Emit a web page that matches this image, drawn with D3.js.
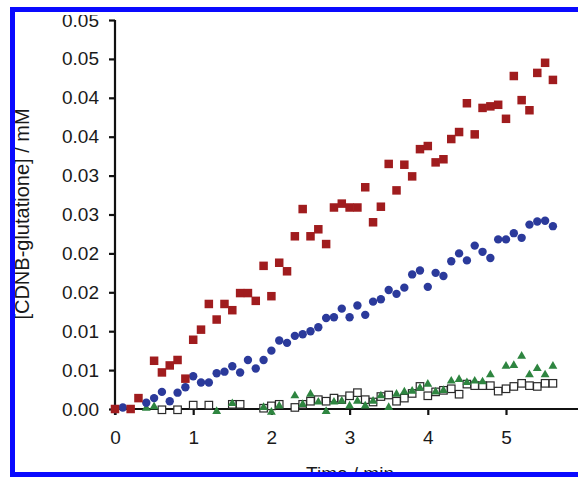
<!DOCTYPE html>
<html>
<head>
<meta charset="utf-8">
<script src="https://cdn.jsdelivr.net/npm/d3@7"></script>
<style>
  html, body { margin: 0; padding: 0; background: #fff; }
  svg { display: block; }
  text { font-family: "Liberation Sans", Arial, sans-serif; fill: #1a1a1a; }
</style>
</head>
<body>
<svg id="chart" width="578" height="479"></svg>
<script>
// ---- data (time in min, concentration in mM) ----
const redT = [0.0,0.2,0.3,0.5,0.6,0.7,0.8,0.9,1.0,1.1,1.2,1.3,1.4,1.5,1.6,1.7,1.8,1.9,2.0,2.1,2.2,2.3,2.4,2.5,2.6,2.7,2.8,2.9,3.0,3.1,3.2,3.3,3.4,3.5,3.6,3.7,3.8,3.9,4.0,4.1,4.2,4.3,4.4,4.5,4.6,4.7,4.8,4.9,5.0,5.1,5.2,5.3,5.4,5.5,5.6];
const redY = [0,0,0.0014,0.0062,0.0047,0.0056,0.0063,0.0039,0.0089,0.0102,0.0135,0.0115,0.0135,0.0127,0.0149,0.0149,0.0139,0.0184,0.0145,0.0188,0.0177,0.0222,0.0257,0.0222,0.0231,0.0212,0.0259,0.0264,0.0259,0.0259,0.0285,0.0240,0.0260,0.0315,0.0281,0.0314,0.0299,0.0334,0.0338,0.0317,0.0321,0.0347,0.0356,0.0393,0.0353,0.0387,0.0389,0.0391,0.0373,0.0428,0.0397,0.0384,0.0432,0.0445,0.0423];

const blueT = [0.0,0.1,0.4,0.5,0.6,0.7,0.8,0.9,1.0,1.1,1.2,1.3,1.4,1.5,1.6,1.7,1.8,1.9,2.0,2.1,2.2,2.3,2.4,2.5,2.6,2.7,2.8,2.9,3.0,3.1,3.2,3.3,3.4,3.5,3.6,3.7,3.8,3.9,4.0,4.1,4.2,4.3,4.4,4.5,4.6,4.7,4.8,4.9,5.0,5.1,5.2,5.3,5.4,5.5,5.6];
const blueY = [0,0.0002,0.0008,0.0014,0.0022,0.0010,0.0021,0.0028,0.0042,0.0034,0.0034,0.0046,0.0048,0.0055,0.0047,0.0063,0.0052,0.0063,0.0075,0.0088,0.0085,0.0094,0.0096,0.0100,0.0105,0.0117,0.0118,0.0129,0.0118,0.0133,0.0121,0.0138,0.0141,0.0153,0.0148,0.0156,0.0173,0.0178,0.0157,0.0175,0.0171,0.0190,0.0200,0.0191,0.0210,0.0202,0.0194,0.0218,0.0218,0.0226,0.0220,0.0237,0.0241,0.0242,0.0235];

const openT = [0.6,0.8,1.0,1.2,1.5,1.6,1.9,2.0,2.1,2.3,2.4,2.5,2.6,2.7,2.8,2.9,3.0,3.1,3.2,3.3,3.4,3.5,3.6,3.7,3.8,3.9,4.0,4.1,4.2,4.3,4.4,4.5,4.6,4.7,4.8,4.9,5.0,5.1,5.2,5.3,5.4,5.5,5.6];
const openY = [-0.0001,-0.0001,0.0005,0.0005,0.0006,0.0006,0.0001,0.0004,0.0006,0.0002,0.0006,0.0010,0.0012,0.0010,0.0014,0.0012,0.0017,0.0021,0.0012,0.0009,0.0016,0.0018,0.0010,0.0014,0.0020,0.0029,0.0017,0.0022,0.0024,0.0026,0.0019,0.0032,0.0030,0.0030,0.0030,0.0023,0.0026,0.0029,0.0033,0.0030,0.0029,0.0033,0.0033];

const greenT = [0.4,0.5,1.3,1.5,1.9,2.0,2.1,2.3,2.4,2.5,2.6,2.7,2.8,2.9,3.0,3.1,3.2,3.3,3.4,3.5,3.6,3.7,3.8,3.9,4.0,4.1,4.2,4.3,4.4,4.5,4.6,4.7,4.8,5.0,5.1,5.2,5.3,5.4,5.5,5.6];
const greenY = [0.0001,0.0003,-0.0003,0.0007,0.0002,-0.0004,0.0004,0.0017,0.0006,0.0019,0.0009,-0.0003,0.0009,0.0010,0.0004,0.0010,0.0004,0.0010,0.0017,0.0002,0.0019,0.0022,0.0023,0.0027,0.0032,0.0022,0.0024,0.0036,0.0038,0.0034,0.0036,0.0035,0.0044,0.0055,0.0056,0.0068,0.0044,0.0052,0.0044,0.0055];

const xTicks = [0,1,2,3,4,5,6];
const yTicks = [0,0.005,0.01,0.015,0.02,0.025,0.03,0.035,0.04,0.045,0.05];
const yTickLabels = ["0.00","0.01","0.01","0.02","0.02","0.03","0.03","0.04","0.04","0.05","0.05"];
const xTitle = "Time / min";
const yTitle = "[CDNB-glutatione] / mM";

// ---- drawing ----
const svg = d3.select("#chart");
const x = d3.scaleLinear().domain([0, 6]).range([115, 584.2]);
const y = d3.scaleLinear().domain([0, 0.05]).range([409, 20]);

svg.append("defs").append("clipPath").attr("id", "clip")
  .append("rect").attr("x", 12).attr("y", 15).attr("width", 570).attr("height", 458);

const g = svg.append("g").attr("clip-path", "url(#clip)");

// axes
const xAxis = g.append("g").attr("transform", `translate(0,${y(0)})`)
  .call(d3.axisBottom(x).tickValues(xTicks).tickFormat(d3.format("d")).tickSize(6).tickPadding(16));
const yAxis = g.append("g").attr("transform", `translate(${x(0)},0)`)
  .call(d3.axisLeft(y).tickValues(yTicks).tickFormat((d, i) => yTickLabels[i]).tickSize(6).tickPadding(10));

[xAxis, yAxis].forEach(a => {
  a.select(".domain").attr("stroke", "#111").attr("stroke-width", 2.2);
  a.selectAll(".tick line").attr("stroke", "#111").attr("stroke-width", 2.2);
  a.selectAll(".tick text").attr("font-size", 19).attr("fill", "#1a1a1a")
    .style("font-family", '"Liberation Sans", Arial, sans-serif');
});
xAxis.select(".domain").attr("d", `M${x(0) - 3},0H${x(6) + 10}`);
yAxis.select(".domain").attr("d", `M0,${y(0) + 6}V${y(0.05)}`);
xAxis.selectAll(".tick text").attr("dy", "0.71em");

// open squares
const os = 7.5;
g.append("g").selectAll("rect").data(openT).join("rect")
  .attr("x", (d) => x(d) - os / 2)
  .attr("y", (d, i) => y(openY[i]) - os / 2)
  .attr("width", os).attr("height", os)
  .attr("fill", "#fff").attr("stroke", "#2a2a2a").attr("stroke-width", 1.2);

// green triangles
g.append("g").selectAll("path").data(greenT).join("path")
  .attr("transform", (d, i) => `translate(${x(d)},${y(greenY[i])})`)
  .attr("d", d3.symbol(d3.symbolTriangle, 34))
  .attr("fill", "#2e8540");

// blue circles
g.append("g").selectAll("circle").data(blueT).join("circle")
  .attr("cx", (d) => x(d))
  .attr("cy", (d, i) => y(blueY[i]))
  .attr("r", 4.2)
  .attr("fill", "#2b3a9b");

// red squares
const rs = 8.5;
g.append("g").selectAll("rect").data(redT).join("rect")
  .attr("x", (d) => x(d) - rs / 2)
  .attr("y", (d, i) => y(redY[i]) - rs / 2)
  .attr("width", rs).attr("height", rs)
  .attr("fill", "#a01c1e");

// axis titles
g.append("text").attr("x", 350).attr("y", 479.5)
  .attr("text-anchor", "middle").attr("font-size", 19).text(xTitle);
g.append("text").attr("transform", "translate(29,214) rotate(-90)")
  .attr("text-anchor", "middle").attr("font-size", 20).text(yTitle);

// blue frame
svg.append("rect").attr("x", 12.5).attr("y", 9.5).attr("width", 600).attr("height", 465)
  .attr("fill", "none").attr("stroke", "#0a0aff").attr("stroke-width", 5);
</script>
</body>
</html>
